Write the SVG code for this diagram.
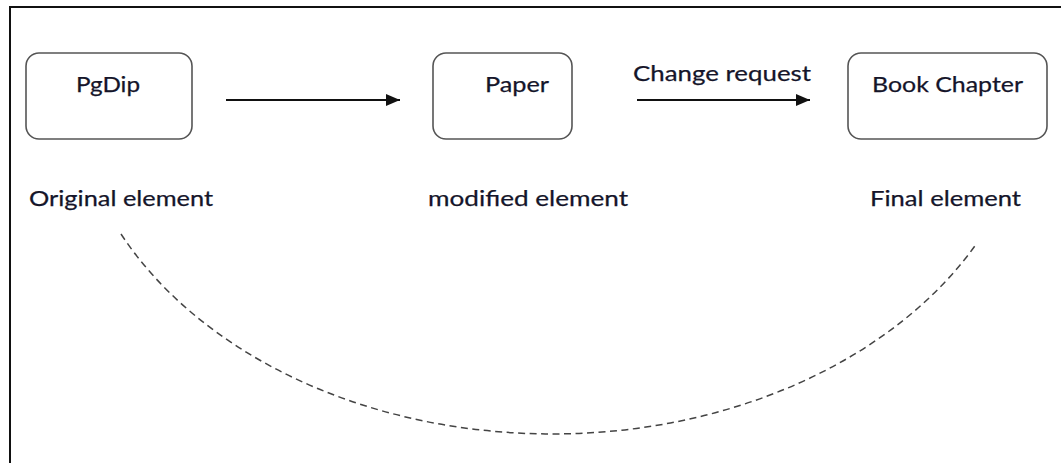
<svg xmlns="http://www.w3.org/2000/svg" width="1061" height="463" viewBox="0 0 1061 463">
  <style>
    .box { fill: #ffffff; stroke: #555555; stroke-width: 1.6; }
    .lbl { font-family: Lato, "Open Sans", "Liberation Sans", sans-serif; font-size: 22px; fill: #15152a; stroke: #15152a; stroke-width: 0.25; }
    .conn { stroke: #111111; stroke-width: 1.8; fill: none; }
    .dash { stroke: #444444; stroke-width: 1.5; fill: none; stroke-dasharray: 7 4.5; }
    .frame { stroke: #111111; stroke-width: 2; fill: none; }
  </style>
  <defs>
    <marker id="arrow" markerWidth="14" markerHeight="12" refX="14" refY="6" orient="auto" markerUnits="userSpaceOnUse">
      <path d="M0,0 L14,6 L0,12 Z" fill="#111111"/>
    </marker>
  </defs>
  <rect x="0" y="0" width="1061" height="463" fill="#ffffff"/>
  <path class="frame" d="M10,463 V7 H1061"/>

  <g id="node-pgdip">
    <rect class="box" x="26" y="53" width="166" height="86" rx="13" ry="13"/>
    <text class="lbl" x="108" y="92" text-anchor="middle" textLength="64" lengthAdjust="spacingAndGlyphs">PgDip</text>
  </g>
  <g id="node-paper">
    <rect class="box" x="433" y="53" width="139" height="86" rx="13" ry="13"/>
    <text class="lbl" x="517" y="92" text-anchor="middle" textLength="64" lengthAdjust="spacingAndGlyphs">Paper</text>
  </g>
  <g id="node-book">
    <rect class="box" x="848" y="53" width="199" height="86" rx="13" ry="13"/>
    <text class="lbl" x="947.5" y="92" text-anchor="middle" textLength="151" lengthAdjust="spacingAndGlyphs">Book Chapter</text>
  </g>

  <g id="captions">
    <text class="lbl" x="29" y="206" textLength="184" lengthAdjust="spacingAndGlyphs">Original element</text>
    <text class="lbl" x="428" y="206" textLength="200" lengthAdjust="spacingAndGlyphs">modified element</text>
    <text class="lbl" x="870" y="206" textLength="151" lengthAdjust="spacingAndGlyphs">Final element</text>
  </g>

  <g id="connectors">
    <line class="conn" x1="226" y1="100" x2="400" y2="100" marker-end="url(#arrow)"/>
    <line class="conn" x1="637" y1="100" x2="810" y2="100" marker-end="url(#arrow)"/>
    <text class="lbl" x="633" y="81" textLength="178" lengthAdjust="spacingAndGlyphs">Change request</text>
    <path class="dash" d="M121,234 A480,357 0 0 0 977,243"/>
  </g>
</svg>
